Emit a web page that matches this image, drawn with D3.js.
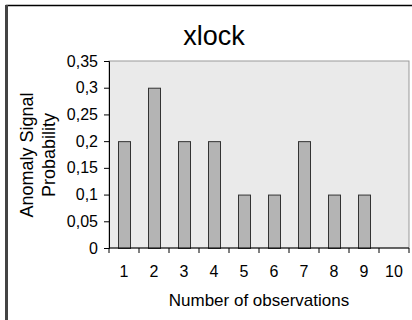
<!DOCTYPE html>
<html>
<head>
<meta charset="utf-8">
<script src="https://cdn.jsdelivr.net/npm/d3@7"></script>
<style>
  body { margin: 0; background: #fff; }
  text { font-family: "Liberation Sans", Arial, sans-serif; fill: #000; }
</style>
</head>
<body>
<svg id="chart" width="412" height="320"></svg>
<script>
  // chart data
  const categories = ["1", "2", "3", "4", "5", "6", "7", "8", "9", "10"];
  const values = [0.2, 0.3, 0.2, 0.2, 0.1, 0.1, 0.2, 0.1, 0.1, 0];
  const yTicks = [0, 0.05, 0.1, 0.15, 0.2, 0.25, 0.3, 0.35];
  const title = "xlock";
  const xTitle = "Number of observations";
  const yTitle = ["Anomaly Signal", "Probability"];

  const svg = d3.select("#chart");
  const margin = { top: 61, right: 3, bottom: 72, left: 109 };
  const width = 412 - margin.left - margin.right;
  const height = 320 - margin.top - margin.bottom;

  // outer frame
  svg.append("path")
    .attr("d", "M6.5,330 L6.5,5.5 L420,5.5")
    .attr("fill", "none")
    .attr("stroke", "#000")
    .attr("stroke-width", 1.5);
  svg.append("rect")
    .attr("x", 5).attr("y", 5).attr("width", 3).attr("height", 320)
    .attr("fill", "#444");

  const g = svg.append("g").attr("transform", `translate(${margin.left},${margin.top})`);

  const x = d3.scaleBand().domain(categories).range([0, width]).paddingInner(0.6).paddingOuter(0.3);
  const y = d3.scaleLinear().domain([0, 0.35]).range([height, 0]);

  // plot area
  g.append("rect")
    .attr("width", width).attr("height", height)
    .attr("fill", "#eaeaea")
    .attr("stroke", "#999")
    .attr("stroke-width", 1);

  // bars
  g.selectAll(".bar")
    .data(values)
    .join("rect")
    .attr("class", "bar")
    .attr("x", (d, i) => x(categories[i]) + 0.5)
    .attr("y", d => y(d) + 0.5)
    .attr("width", x.bandwidth())
    .attr("height", d => Math.max(0, height - y(d)))
    .attr("fill", d => d > 0 ? "#b4b4b4" : "none")
    .attr("stroke", d => d > 0 ? "#333" : "none")
    .attr("stroke-width", 1);

  // y axis
  const fmt = d => d3.format(".2~f")(d).replace(".", ",");
  const yAxis = g.append("g")
    .call(d3.axisLeft(y).tickValues(yTicks).tickFormat(fmt).tickSize(5).tickPadding(6));
  yAxis.select(".domain").attr("stroke", "#000");
  yAxis.selectAll("text").style("font-size", "16px");

  // x axis: ticks between categories
  const step = width / categories.length;
  const xAxis = g.append("g").attr("transform", `translate(0,${height})`);
  xAxis.append("line").attr("x1", 0).attr("x2", width).attr("stroke", "#000");
  xAxis.selectAll(".tk")
    .data(d3.range(categories.length + 1))
    .join("line")
    .attr("x1", i => i * step).attr("x2", i => i * step)
    .attr("y1", 0).attr("y2", 5)
    .attr("stroke", "#000");
  xAxis.selectAll(".lbl")
    .data(categories)
    .join("text")
    .attr("x", d => x(d) + x.bandwidth() / 2)
    .attr("y", 29)
    .attr("text-anchor", "middle")
    .style("font-size", "16px")
    .text(d => d);

  // titles
  svg.append("text")
    .attr("x", 214).attr("y", 45)
    .attr("text-anchor", "middle")
    .style("font-size", "27px")
    .text(title);

  svg.append("text")
    .attr("x", 259).attr("y", 306)
    .attr("text-anchor", "middle")
    .style("font-size", "17px")
    .text(xTitle);

  yTitle.forEach((t, i) => {
    svg.append("text")
      .attr("transform", `translate(${33 + i * 22},155) rotate(-90)`)
      .attr("text-anchor", "middle")
      .style("font-size", "18px")
      .text(t);
  });
</script>
</body>
</html>
